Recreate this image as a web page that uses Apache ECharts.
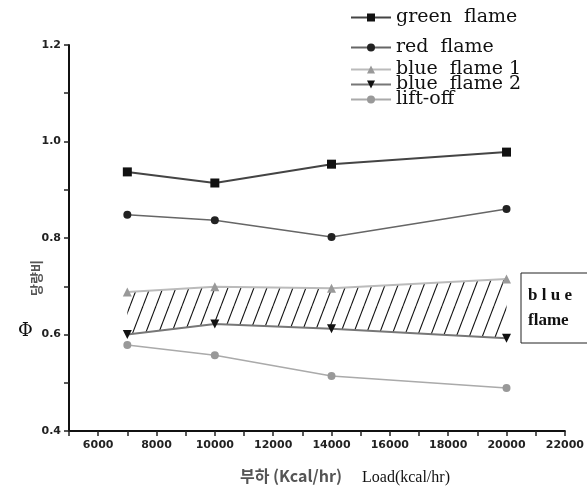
<!DOCTYPE html>
<html>
<head>
<meta charset="utf-8">
<script src="https://cdn.jsdelivr.net/npm/echarts@6/dist/echarts.min.js"></script>
<style>
  html, body { margin: 0; padding: 0; background: #fff; }
  #chart { width: 587px; height: 495px; }
</style>
</head>
<body>
<div id="chart"></div>
<script>
// 데이터
const loads = [7000, 10000, 14000, 20000]
const greenFlame = [0.937, 0.914, 0.953, 0.978]
const redFlame = [0.848, 0.837, 0.802, 0.860]
const blueFlame1 = [0.688, 0.699, 0.696, 0.715]
const blueFlame2 = [0.600, 0.622, 0.612, 0.592]
const liftOff = [0.578, 0.557, 0.514, 0.489]

const pairs = (ys) => loads.map((x, i) => [x, ys[i]])

// 빗금 패턴
const hatch = document.createElement('canvas')
hatch.width = 13
hatch.height = 34
const hc = hatch.getContext('2d')
hc.strokeStyle = '#111'
hc.lineWidth = 1.1
for (const off of [-13, 0, 13]) {
  hc.beginPath()
  hc.moveTo(off, 34)
  hc.lineTo(off + 13, 0)
  hc.stroke()
}

const chart = echarts.init(document.getElementById('chart'))

const legendText = { fontFamily: 'DejaVu Serif', fontSize: 19, color: '#111' }
const legendItem = (name, top) => ({
  data: [name],
  left: 345,
  top: top,
  itemWidth: 40,
  itemHeight: 10,
  itemGap: 0,
  textStyle: legendText,
  formatter: n => n.replace(' ', '  ')
})

// blue flame 영역 (빗금)
const renderBand = (params, api) => {
  if (params.dataIndex !== 0) return null
  const top = loads.map((x, i) => api.coord([x, blueFlame1[i]]))
  const bottom = loads.map((x, i) => api.coord([x, blueFlame2[i]])).reverse()
  return {
    type: 'polygon',
    shape: { points: top.concat(bottom) },
    style: { fill: { image: hatch, repeat: 'repeat' }, stroke: null }
  }
}

const option = {
  animation: false,
  backgroundColor: '#fff',
  grid: { left: 69, right: 19, top: 45, bottom: 64 },
  legend: [
    legendItem('green flame', 3),
    legendItem('red flame', 33),
    legendItem('blue flame 1', 55),
    legendItem('blue flame 2', 70),
    legendItem('lift-off', 85)
  ],
  xAxis: {
    type: 'value',
    min: 5000,
    max: 22000,
    interval: 1000,
    splitLine: { show: false },
    axisLine: { lineStyle: { color: '#111', width: 2 } },
    axisTick: { length: 5, lineStyle: { color: '#222', width: 1.5 } },
    axisLabel: {
      color: '#222',
      fontWeight: 'bold',
      fontSize: 11,
      fontFamily: 'DejaVu Sans',
      margin: 9,
      formatter: v => (v % 2000 === 0 ? String(v) : '')
    }
  },
  yAxis: {
    type: 'value',
    min: 0.4,
    max: 1.2,
    interval: 0.1,
    splitLine: { show: false },
    axisLine: { lineStyle: { color: '#111', width: 2 } },
    axisTick: { length: 5, lineStyle: { color: '#222', width: 1.5 } },
    axisLabel: {
      color: '#222',
      fontWeight: 'bold',
      fontSize: 11,
      fontFamily: 'DejaVu Sans',
      margin: 8,
      formatter: v => (Math.round(v * 10) % 2 === 0 ? v.toFixed(1) : '')
    }
  },
  graphic: [
    {
      type: 'text', left: 18, top: 322,
      style: { text: 'Φ', font: '18px "DejaVu Serif"', fill: '#111' }
    },
    {
      type: 'text', x: 30, y: 296, rotation: Math.PI / 2,
      style: { text: '당량비', font: 'bold 13px "Noto Sans CJK KR"', fill: '#555' }
    },
    {
      type: 'text', left: 240, top: 468,
      style: { text: '부하 (Kcal/hr)', font: 'bold 16px "Noto Sans CJK KR"', fill: '#555' }
    },
    {
      type: 'text', left: 362, top: 470,
      style: { text: 'Load(kcal/hr)', font: '16px "Liberation Serif"', fill: '#111' }
    },
    {
      type: 'rect', shape: { x: 521, y: 273, width: 80, height: 70 },
      style: { fill: '#fff', stroke: '#222', lineWidth: 1 }
    },
    {
      type: 'text', left: 528, top: 287,
      style: { text: 'b l u e', font: 'bold 17px "Liberation Serif"', fill: '#111' }
    },
    {
      type: 'text', left: 528, top: 312,
      style: { text: 'flame', font: 'bold 17px "Liberation Serif"', fill: '#111' }
    }
  ],
  series: [
    {
      name: 'band', type: 'custom', silent: true, z: 1,
      data: loads.map((x, i) => [x, blueFlame1[i], blueFlame2[i]]),
      encode: { x: 0, y: [1, 2] },
      renderItem: renderBand
    },
    {
      name: 'green flame', type: 'line', data: pairs(greenFlame),
      symbol: 'rect', symbolSize: 9,
      lineStyle: { color: '#444', width: 2 },
      itemStyle: { color: '#111' }, z: 5
    },
    {
      name: 'red flame', type: 'line', data: pairs(redFlame),
      symbol: 'circle', symbolSize: 8,
      lineStyle: { color: '#666', width: 1.5 },
      itemStyle: { color: '#222' }, z: 5
    },
    {
      name: 'blue flame 1', type: 'line', data: pairs(blueFlame1),
      symbol: 'triangle', symbolSize: 9,
      lineStyle: { color: '#bbb', width: 2 },
      itemStyle: { color: '#999' }, z: 5
    },
    {
      name: 'blue flame 2', type: 'line', data: pairs(blueFlame2),
      symbol: 'path://M0,0 L10,0 L5,10 Z', symbolSize: 9,
      lineStyle: { color: '#777', width: 2 },
      itemStyle: { color: '#111' }, z: 5
    },
    {
      name: 'lift-off', type: 'line', data: pairs(liftOff),
      symbol: 'circle', symbolSize: 8,
      lineStyle: { color: '#aaa', width: 1.5 },
      itemStyle: { color: '#999' }, z: 5
    }
  ]
}

chart.setOption(option)
</script>
</body>
</html>
